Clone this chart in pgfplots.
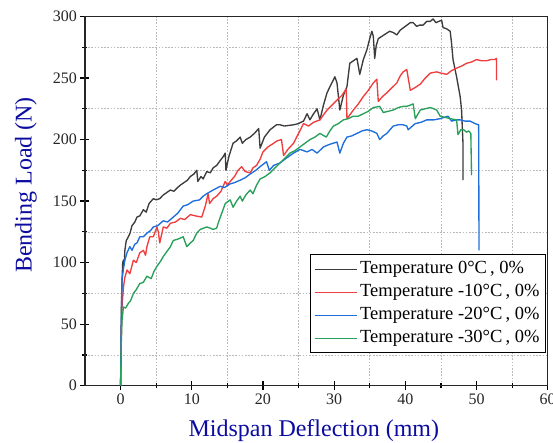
\documentclass[border=0pt]{standalone}
\usepackage{pgfplots}
\pgfplotsset{compat=1.18}
\usepackage{fontspec}
\setmainfont{Liberation Serif}
\definecolor{cBlack}{RGB}{60,60,60}
\definecolor{cRed}{RGB}{240,62,62}
\definecolor{cBlue}{RGB}{30,110,220}
\definecolor{cGreen}{RGB}{40,160,90}
\definecolor{cLab}{RGB}{12,12,160}
\begin{document}
\begin{tikzpicture}
\begin{axis}[
  scale only axis, width=462.7pt, height=369.2pt,
  xmin=-5, xmax=60, ymin=0, ymax=300,
  xtick={0,10,...,60}, ytick={0,50,...,300},
  minor tick num=1,
  xtick pos=left, ytick pos=left,
  tick align=center,
  major tick length=9pt, minor tick length=5pt,
  every tick/.style={black, line width=1.2pt},
  axis line style={line width=1.5pt, black!85},
  xminorgrids=true, yminorgrids=true,
  minor grid style={gray!55, line width=0.7pt, dash pattern=on 1.6pt off 1.6pt},
  /pgf/number format/assume math mode=true,
  ticklabel style={font=\fontsize{16}{19}\selectfont, black!85},
  xlabel={Midspan Deflection (mm)},
  ylabel={Bending Load (N)},
  xlabel style={font=\fontsize{24}{28}\selectfont, text=cLab, at={(axis description cs:0.4945,-0.1227)}, anchor=center},
  ylabel style={font=\fontsize{24}{28}\selectfont, text=cLab, at={(axis description cs:-0.1275,0.5436)}, anchor=center, rotate=0},
  legend cell align=left,
  legend image code/.code={\draw[#1] (0pt,0pt) -- (42pt,0pt);},
  legend style={at={(rel axis cs:0.9963,0.0878)}, anchor=south east,
    draw=black, line width=1.1pt, fill=white,
    font=\fontsize{18.5}{22}\selectfont, row sep=0pt, inner sep=3pt,
    nodes={text height=13.5pt, text depth=4.5pt, inner ysep=2.5pt, inner xsep=3pt}},
  every axis plot/.append style={line width=1.35pt, line join=round},
]
\addplot[cBlack, mark=none] coordinates {
(0,0) (0.05,30) (0.1,60) (0.2,85) (0.3,100) (0.4,102) (0.5,98) (0.6,110) (0.8,118) (1.0,120) (1.33,124) (1.6,130) (2.0,133) (2.3,137) (2.7,138) (3.2,143) (3.6,141) (4.0,148) (4.6,152) (5.0,151) (5.5,152) (6.0,155) (6.5,157) (7.0,159) (7.5,158) (8.0,161) (8.4,163) (8.9,165) (9.4,167) (9.8,170) (10.3,172) (10.7,175) (10.85,166) (11.3,170) (11.6,168) (12.1,174) (12.6,173) (13.0,177) (13.5,179) (14.0,183) (14.4,186) (14.7,189) (14.8,175) (15.2,186) (15.8,197) (16.3,199) (16.8,202) (17.1,197) (17.6,200) (18.2,202) (18.8,205) (19.4,209) (19.6,193) (20.2,202) (21.0,208) (21.9,212) (22.4,212) (23.0,211) (24.3,212) (25.0,213) (25.7,215) (26.2,221) (26.6,216) (27.0,220) (27.6,225) (28.0,216) (28.5,228) (29.0,238) (29.5,244) (30.1,251) (30.4,246) (30.8,224) (31.3,236) (31.8,243) (32.2,262) (32.7,264) (33.2,266) (33.6,253) (34.1,265) (34.6,273) (35.0,282) (35.3,288) (35.5,284) (35.7,266) (35.9,276) (36.2,282) (37.0,285) (37.8,288) (38.3,287) (38.8,285) (39.3,289) (40.0,292) (40.7,295) (41.1,295) (41.6,292) (42.0,293) (42.5,293) (43.0,296) (43.5,296) (43.9,298) (44.3,295) (44.7,296) (45.1,297) (45.3,291) (45.8,290) (46.3,288) (46.5,278) (46.7,265) (47.2,251) (47.7,235) (47.9,224) (48.1,197) (48.1,167)
};
\addlegendentry{Temperature 0°C\,, 0\%}
\addplot[cRed, mark=none] coordinates {
(0,0) (0.1,40) (0.2,64) (0.4,80) (0.6,88) (0.9,94) (1.3,91) (1.8,102) (2.2,100) (2.7,108) (3.2,110) (3.5,106) (3.7,113) (4.1,121) (4.6,121) (5.1,129) (5.3,125) (5.5,116) (6.0,129) (6.5,128) (7.0,132) (7.7,133) (8.4,136) (9.0,135) (9.8,139) (10.5,138) (11.4,137) (11.9,146) (12.3,156) (12.5,148) (13.0,152) (13.5,154) (14.1,158) (14.7,166) (15.0,163) (15.4,166) (16.0,170) (16.5,175) (17.0,178) (17.5,174) (18.2,173) (18.6,177) (19.1,179) (19.6,184) (20.0,190) (20.7,194) (21.5,197) (22.0,199) (22.6,200) (22.9,187) (23.5,192) (24.3,197) (25.0,205) (25.7,213) (26.4,211) (27.1,214) (28.0,216) (28.5,220) (29.0,224) (29.7,228) (30.4,232) (31.1,236) (31.7,241) (31.8,217) (32.2,220) (32.7,224) (33.4,229) (34.1,235) (34.8,240) (35.5,246) (36.0,249) (36.2,231) (36.8,235) (37.4,238) (38.1,242) (38.8,246) (39.3,252) (39.7,255) (40.2,257) (40.7,240) (41.3,242) (42.1,245) (42.8,250) (43.5,254) (44.4,255) (45.0,254) (45.8,253) (46.5,256) (47.2,258) (48.0,260) (48.6,262) (49.3,263) (50.0,265) (50.7,264) (51.4,264) (52.0,265) (52.6,265) (52.8,266) (52.8,248)
};
\addlegendentry{Temperature -10°C\,, 0\%}
\addplot[cBlue, mark=none] coordinates {
(0,0) (0.1,50) (0.2,86) (0.4,95) (0.6,102) (0.9,108) (1.3,113) (1.6,110) (2.0,115) (2.3,116) (2.7,121) (3.2,121) (3.7,124) (4.2,126) (4.6,129) (5.2,130) (6.0,134) (6.6,133) (7.4,137) (8.0,140) (8.8,146) (9.4,147) (10.2,150) (11.1,151) (11.6,154) (12.1,156) (13.0,159) (14.0,162) (14.6,161) (15.4,164) (16.0,165) (16.8,167) (17.5,169) (18.2,172) (19.0,175) (19.6,178) (20.5,182) (20.9,175) (21.5,179) (22.4,181) (23.3,185) (24.3,189) (25.2,192) (25.7,191) (26.2,190) (26.9,192) (27.6,189) (28.5,194) (29.3,196) (30.4,198) (30.8,189) (31.3,197) (31.8,202) (32.5,203) (33.2,205) (33.9,207) (34.6,208) (35.3,207) (36.0,205) (36.4,200) (36.9,203) (37.4,205) (38.3,211) (39.0,212) (39.7,212) (40.2,211) (40.4,208) (41.4,213) (42.2,214) (43.0,216) (44.0,216) (44.9,217) (46.0,219) (46.5,215) (47.2,216) (47.7,216) (48.4,215) (49.1,215) (49.8,213) (50.3,212) (50.35,110)
};
\addlegendentry{Temperature -20°C\,, 0\%}
\addplot[cGreen, mark=none] coordinates {
(0,0) (0.1,35) (0.2,53) (0.4,64) (0.7,63) (1.1,67) (1.4,69) (1.8,75) (2.2,78) (2.7,83) (3.2,84) (3.7,89) (4.3,87) (4.7,93) (5.1,97) (5.6,101) (6.0,105) (6.5,109) (7.0,113) (7.4,118) (8.0,119) (8.8,121) (9.3,113) (9.8,116) (10.2,118) (10.7,124) (11.2,127) (12.1,129) (12.6,128) (13.0,127) (13.5,128) (13.7,132) (14.2,140) (14.7,148) (15.4,151) (15.8,145) (16.3,150) (16.8,154) (17.1,150) (17.6,155) (18.2,159) (18.6,156) (19.1,163) (19.6,168) (20.3,170) (21.0,173) (21.7,177) (22.4,181) (23.1,185) (23.8,189) (24.5,191) (25.2,194) (25.9,197) (26.6,200) (27.3,202) (28.0,205) (28.9,202) (29.4,207) (29.9,211) (30.6,213) (31.3,216) (32.0,217) (32.7,219) (33.4,219) (34.1,221) (34.8,223) (35.5,226) (36.4,227) (36.9,222) (37.6,223) (38.3,224) (39.0,226) (39.7,227) (40.2,227) (40.7,228) (41.1,229) (41.4,217) (42.1,224) (42.8,225) (43.5,226) (44.0,225) (44.4,224) (44.9,219) (45.6,218) (46.3,217) (47.2,216) (47.4,204) (47.8,208) (48.2,208) (48.6,206) (48.9,207) (49.2,205) (49.3,171)
};
\addlegendentry{Temperature -30°C\,, 0\%}
\end{axis}
\pgfresetboundingbox
\path (current axis.south west) ++(-85pt,-57.3pt) rectangle ++(553pt,443pt);
\end{tikzpicture}
\end{document}
